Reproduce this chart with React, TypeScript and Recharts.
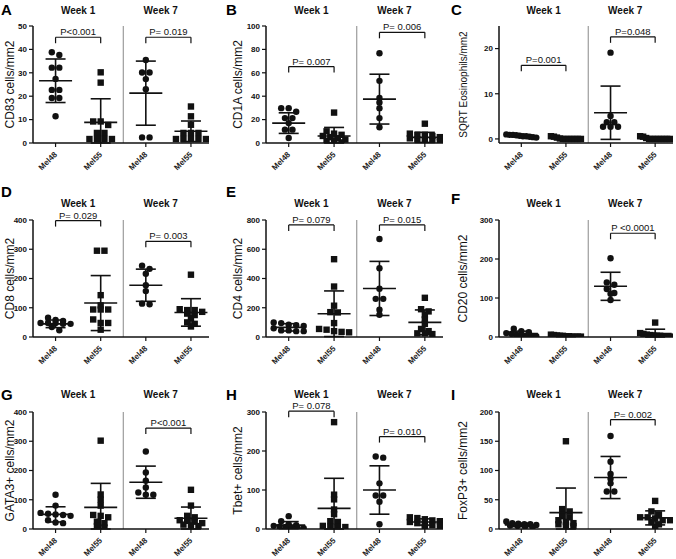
import React from "react";
import {
    ScatterChart,
    Scatter,
    XAxis,
    YAxis,
    ErrorBar,
    ReferenceLine,
    Label,
} from "recharts";

const GROUPS = ["Mel48", "Mel55", "Mel48", "Mel55"];
const WEEKS = ["Week 1", "Week 7"];

// A - CD83
const cd83Values = [
    [38.8, 37.6, 32.2, 32.2, 27.4, 22.7, 22.7, 19.2, 19.2, 11.4],
    [30.2, 25.8, 9.2, 9.2, 7.7, 4.3, 4.3, 1.7, 1.7, 1.7, 1.7],
    [35.5, 30.1, 30.1, 27.3, 23.0, 2.4, 2.4],
    [15.6, 11.4, 7.8, 4.3, 4.3, 4.3, 1.7, 1.7, 1.7, 1.7, 1.7],
];
const cd83Mean = [26.6, 8.8, 21.3, 5.0];
const cd83Sd = [9.3, 10.1, 13.7, 4.4];

// B - CD1A
const cd1aValues = [
    [29.8, 29.8, 26.7, 21.3, 21.3, 17, 11.4, 11.4, 4.3],
    [26, 10, 8, 7, 6, 5, 4, 3, 2, 1.5, 0.5],
    [76.7, 53.1, 38.4, 34.7, 29.8, 21.3, 13.4],
    [16.5, 8, 7, 7, 6, 5, 4, 3, 2, 2, 1],
];
const cd1aMean = [17, 6, 37.5, 4.8];
const cd1aSd = [8.8, 7.3, 21.3, 4.3];

// C - SQRT eosinophils
const eosValues = [
    [1.0, 0.9, 0.9, 0.8, 0.7, 0.6, 0.6, 0.5, 0.4, 0.3],
    [0.6, 0.5, 0.3, 0.1, 0, 0, 0, 0, 0, 0, 0],
    [19.1, 5.1, 3.7, 3.7, 2.7, 2.7, 2.7],
    [0.6, 0.5, 0.2, 0, 0, 0, 0, 0, 0, 0, 0],
];
const eosMean = [0.65, 0.15, 5.8, 0.12];
const eosSd = [0.2, 0.2, 5.9, 0.2];

// D - CD8
const cd8Values = [
    [66, 58, 55, 48, 48, 48, 45, 45, 34, 23],
    [295, 295, 143, 108, 94, 94, 94, 60, 48, 48, 25],
    [244, 233, 216, 177, 157, 114, 112],
    [213, 95, 92, 92, 86, 80, 75, 64, 50, 45, 36],
];
const cd8Mean = [45, 116, 177, 84];
const cd8Sd = [13, 94, 55, 47];

// E - CD4
const cd4Values = [
    [100, 95, 84, 80, 75, 60, 45, 45, 40, 40],
    [532, 345, 214, 170, 168, 95, 55, 50, 40, 35, 32],
    [670, 470, 330, 261, 261, 186, 152],
    [268, 190, 175, 150, 120, 90, 55, 40, 25, 25, 20],
];
const cd4Mean = [66, 159, 332, 100];
const cd4Sd = [25, 156, 185, 85];

// F - CD20
const cd20Values = [
    [21, 15, 12, 10, 8, 6, 5, 3, 3, 2],
    [6, 5, 4, 3, 3, 2, 2, 1, 1, 1, 1],
    [202, 140, 134, 123, 113, 111, 95],
    [37, 10, 8, 6, 5, 4, 3, 3, 2, 2, 1],
];
const cd20Mean = [9, 3, 130, 9];
const cd20Sd = [6, 2, 36, 11];

// G - GATA3+
const gata3Values = [
    [117, 80, 55, 52, 50, 48, 45, 30, 22, 20],
    [302, 118, 100, 80, 48, 45, 40, 25, 20, 10, 5],
    [265, 193, 165, 142, 125, 117, 117],
    [134, 80, 45, 40, 30, 28, 25, 20, 15, 12, 10],
];
const gata3Mean = [50, 74, 160, 37];
const gata3Sd = [26, 82, 55, 38];

// H - Tbet+
const tbetValues = [
    [33, 20, 12, 10, 8, 6, 5, 3, 2, 2],
    [274, 88, 76, 50, 38, 20, 18, 8, 6, 5, 5],
    [186, 183, 117, 86, 86, 70, 12],
    [30, 28, 25, 22, 20, 18, 15, 12, 10, 8, 5],
];
const tbetMean = [10, 53, 100, 18];
const tbetSd = [9, 77, 62, 8];

// I - FoxP3+
const foxp3Values = [
    [13, 10, 9, 8, 8, 7, 6, 5, 4, 3],
    [150, 34, 30, 22, 20, 15, 12, 10, 8, 6, 5],
    [159, 115, 94, 86, 78, 64, 64],
    [48, 30, 25, 20, 20, 18, 15, 15, 12, 8, 3],
];
const foxp3Mean = [7, 28, 88, 19];
const foxp3Sd = [3, 42, 36, 12];

type Bracket = { from: number; to: number; y: number; text: string };

interface PanelDef {
    letter: string;
    yLabel: string;
    values: number[][];
    mean: number[];
    sd: number[];
    domain: [number, number];
    ticks: number[];
    brackets: Bracket[];
}

const panels: PanelDef[] = [
    {
        letter: "A", yLabel: "CD83 cells/mm2", values: cd83Values, mean: cd83Mean, sd: cd83Sd,
        domain: [0, 50], ticks: [0, 10, 20, 30, 40, 50],
        brackets: [
            { from: 1, to: 2, y: 45.2, text: "P<0.001" },
            { from: 3, to: 4, y: 45.2, text: "P= 0.019" },
        ],
    },
    {
        letter: "B", yLabel: "CD1A cells/mm2", values: cd1aValues, mean: cd1aMean, sd: cd1aSd,
        domain: [0, 100], ticks: [0, 20, 40, 60, 80, 100],
        brackets: [
            { from: 1, to: 2, y: 65.3, text: "P= 0.007" },
            { from: 3, to: 4, y: 94.6, text: "P= 0.006" },
        ],
    },
    {
        letter: "C", yLabel: "SQRT Eosinophils/mm2", values: eosValues, mean: eosMean, sd: eosSd,
        domain: [-0.9, 25], ticks: [0, 10, 20],
        brackets: [
            { from: 1, to: 2, y: 16.3, text: "P=0.001" },
            { from: 3, to: 4, y: 22.6, text: "P=0.048" },
        ],
    },
    {
        letter: "D", yLabel: "CD8 cells/mm2", values: cd8Values, mean: cd8Mean, sd: cd8Sd,
        domain: [0, 400], ticks: [0, 100, 200, 300, 400],
        brackets: [
            { from: 1, to: 2, y: 398, text: "P= 0.029" },
            { from: 3, to: 4, y: 327, text: "P= 0.003" },
        ],
    },
    {
        letter: "E", yLabel: "CD4 cells/mm2", values: cd4Values, mean: cd4Mean, sd: cd4Sd,
        domain: [0, 800], ticks: [0, 200, 400, 600, 800],
        brackets: [
            { from: 1, to: 2, y: 766, text: "P= 0.079" },
            { from: 3, to: 4, y: 766, text: "P= 0.015" },
        ],
    },
    {
        letter: "F", yLabel: "CD20 cells/mm2", values: cd20Values, mean: cd20Mean, sd: cd20Sd,
        domain: [0, 300], ticks: [0, 100, 200, 300],
        brackets: [{ from: 3, to: 4, y: 266, text: "P <0.0001" }],
    },
    {
        letter: "G", yLabel: "GATA3+ cells/mm2", values: gata3Values, mean: gata3Mean, sd: gata3Sd,
        domain: [0, 400], ticks: [0, 100, 200, 300, 400],
        brackets: [{ from: 3, to: 4, y: 345, text: "P<0.001" }],
    },
    {
        letter: "H", yLabel: "Tbet+ cells/mm2", values: tbetValues, mean: tbetMean, sd: tbetSd,
        domain: [0, 300], ticks: [0, 100, 200, 300],
        brackets: [
            { from: 1, to: 2, y: 302, text: "P= 0.078" },
            { from: 3, to: 4, y: 237, text: "P= 0.010" },
        ],
    },
    {
        letter: "I", yLabel: "FoxP3+ cells/mm2", values: foxp3Values, mean: foxp3Mean, sd: foxp3Sd,
        domain: [0, 200], ticks: [0, 50, 100, 150, 200],
        brackets: [{ from: 3, to: 4, y: 187, text: "P= 0.002" }],
    },
];

// layout
const FONT = "'Liberation Sans', Arial, sans-serif";
const COL_LEFT = [0, 225, 450];
const COL_WIDTH = [225, 225, 226];
const AXIS_WIDTH = [33, 41, 49];
const RIGHT_MARGIN = [16, 7, 3];
const LABEL_X = [11, 14, 14];
const ROW_PLOT_TOP = [26, 220, 412];
const TITLE_GAP = [16, 17, 18];
const LETTER_TOP = [[2, 2, 2], [184, 184, 191], [387, 387, 387]];
const LETTER_LEFT = [1, 226, 451];
const PLOT_H = 117;
const TOP_AXIS_H = 26;
const X_AXIS_H = 30;
const X_DOMAIN: [number, number] = [0.5, 4.4];
const CHART_H = 190;

// Prism-like scatter: points close in value share a row, rows centred on the group
function rowOffsets(values: number[], pxPerY: number, spacing: number, maxHalf: number) {
    const order = values.map((v, i) => i).sort((a, b) => values[b] - values[a]);
    const offs = new Array(values.length).fill(0);
    let i = 0;
    while (i < order.length) {
        const start = values[order[i]] * pxPerY;
        let j = i;
        while (j < order.length && start - values[order[j]] * pxPerY < 4) j++;
        const row = order.slice(i, j);
        const n = row.length;
        const s = n > 1 ? Math.min(spacing, (2 * maxHalf) / (n - 1)) : 0;
        row.forEach((idx, k) => {
            offs[idx] = (k - (n - 1) / 2) * s;
        });
        i = j;
    }
    return offs;
}

const Dot = (p: any) => <circle cx={p.cx} cy={p.cy} r={3.2} fill="#111" />;
const Square = (p: any) => (
    <rect x={p.cx - 3.2} y={p.cy - 3.2} width={6.4} height={6.4} fill="#111" />
);
const MeanLine = (p: any) => (
    <line x1={p.cx - 16.5} x2={p.cx + 16.5} y1={p.cy} y2={p.cy} stroke="#111" strokeWidth={1.6} />
);

const GroupTick = (p: any) => (
    <g transform={`translate(${p.x - 2},${p.y + 4}) rotate(-45)`}>
        <text x={0} y={0} dy="0.71em" textAnchor="end" fontSize={8} fontWeight="bold" fill="#222">
            {GROUPS[Math.round(p.payload.value) - 1]}
        </text>
    </g>
);

function Panel({ def, index }: { def: PanelDef; index: number }) {
    const col = index % 3;
    const row = Math.floor(index / 3);
    const width = COL_WIDTH[col];
    const plotW = width - AXIS_WIDTH[col] - RIGHT_MARGIN[col];
    const pxPerX = plotW / (X_DOMAIN[1] - X_DOMAIN[0]);
    const range = def.domain[1] - def.domain[0];
    const pxPerY = PLOT_H / range;
    const tickLen = (6 / PLOT_H) * range;
    const labelSize = def.yLabel.length > 16 ? 10 : 12;

    const groupData = def.values.map((vals, g) => {
        const offs = rowOffsets(vals, pxPerY, 7.5, 15);
        return vals.map((v, i) => ({ x: g + 1 + offs[i] / pxPerX, y: v }));
    });
    const summary = def.mean.map((m, g) => [
        {
            x: g + 1,
            y: m,
            err: [Math.min(def.sd[g], m - def.domain[0]), def.sd[g]],
        },
    ]);
    const labelX = LABEL_X[col];

    return (
        <>
            <div
                style={{
                    position: "absolute",
                    left: LETTER_LEFT[col],
                    top: LETTER_TOP[row][col],
                    fontSize: 15,
                    fontWeight: "bold",
                    lineHeight: 1,
                    fontFamily: FONT,
                }}
            >
                {def.letter}
            </div>
            <div
                style={{
                    position: "absolute",
                    left: COL_LEFT[col],
                    top: ROW_PLOT_TOP[row] - TOP_AXIS_H,
                }}
            >
                <ScatterChart
                    width={width}
                    height={CHART_H}
                    margin={{
                        top: 0,
                        right: RIGHT_MARGIN[col],
                        left: 0,
                        bottom: CHART_H - TOP_AXIS_H - PLOT_H - X_AXIS_H,
                    }}
                >
                    <XAxis
                        xAxisId="t"
                        orientation="top"
                        type="number"
                        dataKey="x"
                        domain={X_DOMAIN}
                        ticks={[1.5, 3.33]}
                        height={TOP_AXIS_H}
                        axisLine={false}
                        tickLine={false}
                        tickSize={0}
                        tickMargin={TITLE_GAP[row] - 3.6}
                        tickFormatter={(v: number) => (v < 2.5 ? WEEKS[0] : WEEKS[1])}
                        tick={{ fontSize: 10, fontWeight: "bold", fill: "#111", fontFamily: FONT }}
                        allowDataOverflow
                    />
                    <XAxis
                        xAxisId="b"
                        type="number"
                        dataKey="x"
                        domain={X_DOMAIN}
                        ticks={[1, 2, 3, 4]}
                        interval={0}
                        height={X_AXIS_H}
                        allowDataOverflow
                        axisLine={{ stroke: "#111", strokeWidth: 1.5 }}
                        tickLine={{ stroke: "#111", strokeWidth: 1.2 }}
                        tickSize={4}
                        tickMargin={0}
                        tick={<GroupTick />}
                    />
                    <YAxis
                        type="number"
                        dataKey="y"
                        domain={def.domain}
                        ticks={def.ticks}
                        interval={0}
                        width={AXIS_WIDTH[col]}
                        allowDataOverflow
                        axisLine={{ stroke: "#111", strokeWidth: 1.5 }}
                        tickLine={{ stroke: "#111", strokeWidth: 1.2 }}
                        tickSize={4}
                        tickMargin={2}
                        tick={{ fontSize: 8, fontWeight: "bold", fill: "#111", fontFamily: FONT }}
                    >
                        <Label
                            content={(lp: any) => {
                                const vb = lp.viewBox || {};
                                const cy = (vb.y ?? TOP_AXIS_H) + (vb.height ?? PLOT_H) / 2;
                                return (
                                    <text
                                        transform={`translate(${labelX},${cy}) rotate(-90)`}
                                        textAnchor="middle"
                                        dominantBaseline="middle"
                                        fontSize={labelSize}
                                        fill="#111"
                                        fontFamily={FONT}
                                    >
                                        {def.yLabel}
                                    </text>
                                );
                            }}
                        />
                    </YAxis>
                    <ReferenceLine xAxisId="b" x={2.5} stroke="#888" strokeWidth={1} />
                    {def.brackets.map((b, i) => (
                        <ReferenceLine
                            key={"bh" + i}
                            xAxisId="b"
                            ifOverflow="visible"
                            segment={[
                                { x: b.from, y: b.y },
                                { x: b.to, y: b.y },
                            ]}
                            stroke="#111"
                            strokeWidth={1.2}
                            label={{
                                value: b.text,
                                position: "top",
                                offset: 2,
                                fontSize: 9.5,
                                fill: "#111",
                                fontFamily: FONT,
                            }}
                        />
                    ))}
                    {def.brackets.flatMap((b, i) =>
                        [b.from, b.to].map((xv, j) => (
                            <ReferenceLine
                                key={`bt${i}-${j}`}
                                xAxisId="b"
                                ifOverflow="visible"
                                segment={[
                                    { x: xv, y: b.y },
                                    { x: xv, y: b.y - tickLen },
                                ]}
                                stroke="#111"
                                strokeWidth={1.2}
                            />
                        ))
                    )}
                    {groupData.map((d, g) => (
                        <Scatter
                            key={"pts" + g}
                            xAxisId="b"
                            data={d}
                            shape={g % 2 === 0 ? Dot : Square}
                            isAnimationActive={false}
                        />
                    ))}
                    {summary.map((d, g) => (
                        <Scatter
                            key={"sum" + g}
                            xAxisId="b"
                            data={d}
                            shape={MeanLine}
                            isAnimationActive={false}
                        >
                            <ErrorBar
                                dataKey="err"
                                direction="y"
                                width={10}
                                stroke="#111"
                                strokeWidth={1.6}
                                isAnimationActive={false}
                            />
                        </Scatter>
                    ))}
                </ScatterChart>
            </div>
        </>
    );
}

export default function App() {
    return (
        <div
            style={{
                position: "absolute",
                left: 0,
                top: 0,
                width: 676,
                height: 559,
                overflow: "hidden",
                background: "#fff",
                fontFamily: FONT,
            }}
        >
            {panels.map((p, i) => (
                <Panel key={p.letter} def={p} index={i} />
            ))}
        </div>
    );
}
